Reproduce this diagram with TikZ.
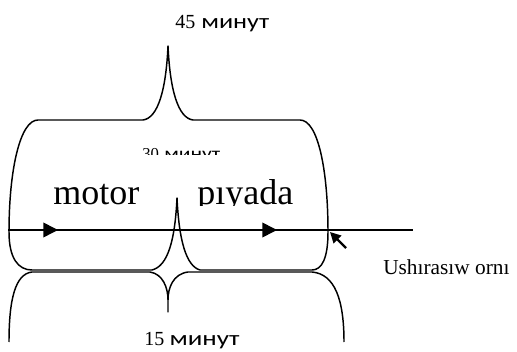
\documentclass[tikz,border=0pt]{standalone}
\usepackage{fontspec}
\usepackage{graphicx}
\setmainfont{Liberation Serif}
\newfontfamily\cyr{Carlito}
\usetikzlibrary{arrows.meta}
% a Cyrillic word set in the sans face, stretched to a given width
\newcommand{\wideword}[3]{\resizebox{#1}{\height}{\cyr\fontsize{#2}{#2}\selectfont #3}}
\begin{document}
\begin{tikzpicture}[x=0.75pt,y=-0.75pt,
  brace/.style={line width=1.1pt,line join=round},
  lbl/.style={inner sep=0pt,anchor=base west},
  small/.style={font=\fontsize{15}{17}\selectfont},
  smaller/.style={font=\fontsize{12.5}{14}\selectfont},
  big/.style={font=\fontsize{27}{30}\selectfont},
  path/.style={line width=1.2pt},
  headarrow/.style={line width=1.2pt,-{Triangle[length=11pt,width=11pt]}},
  pointer/.style={line width=1.6pt,-{Triangle[length=8pt,width=8pt]}}]
\useasboundingbox (0,0) rectangle (517,352);

% time labels
\node[lbl,small] (t45) at (175,29) {45\hspace{4.5pt}\wideword{51pt}{15.5}{минут}};
\node[lbl,smaller] (t30) at (142,160) {30\hspace{4pt}\wideword{42pt}{13}{минут}};
\node[lbl,small] (t15) at (144,345) {15\hspace{4pt}\wideword{52.5pt}{15.5}{минут}};

% text box over the middle label
\begin{scope}
  \clip (40,155) rectangle (320,206);
  \fill[white] (40,155) rectangle (320,206);
  \node[lbl,big] (motor) at (53,205) {motor};
  \node[lbl,big] (piyada) at (197,205) {pıyada};
\end{scope}

% upper brace (whole trip)
\draw[brace] (9,232) .. controls (9,170) and (20,120) .. (38,120) -- (143,120)
  .. controls (158,118) and (166,90) .. (168,46)
  .. controls (170,90) and (178,118) .. (193,120) -- (300,120)
  .. controls (318,120) and (328,170) .. (328,232);

% brace under the two legs
\draw[brace] (9,232) .. controls (9,258) and (18,270) .. (32,270) -- (152,270)
  .. controls (168,266) and (175,240) .. (177,198)
  .. controls (179,240) and (186,266) .. (200,270) -- (312,270)
  .. controls (322,270) and (328,258) .. (328,232);

% lower brace
\draw[brace] (9,342) .. controls (9,300) and (15,274) .. (32,272) -- (150,272)
  .. controls (163,274) and (168,288) .. (168,300) -- (168,312) -- (168,300)
  .. controls (168,288) and (173,274) .. (188,272) -- (312,272)
  .. controls (335,274) and (344,300) .. (344,342);

% route line with direction arrows
\coordinate (L) at (8,230);
\coordinate (R) at (413,230);
\coordinate (a1) at (58,230);
\coordinate (b0) at (243,230);
\coordinate (b1) at (277,230);
\draw[path] (L) -- (R);
\draw[headarrow] (L) -- (a1);
\draw[headarrow] (b0) -- (b1);

% meeting point
\coordinate (p0) at (346,248);
\coordinate (p1) at (330,232);
\draw[pointer] (p0) -- (p1);
\node[lbl,font=\fontsize{16}{19}\selectfont] (meet) at (383,275) {Ushırasıw ornı};
\end{tikzpicture}
\end{document}
